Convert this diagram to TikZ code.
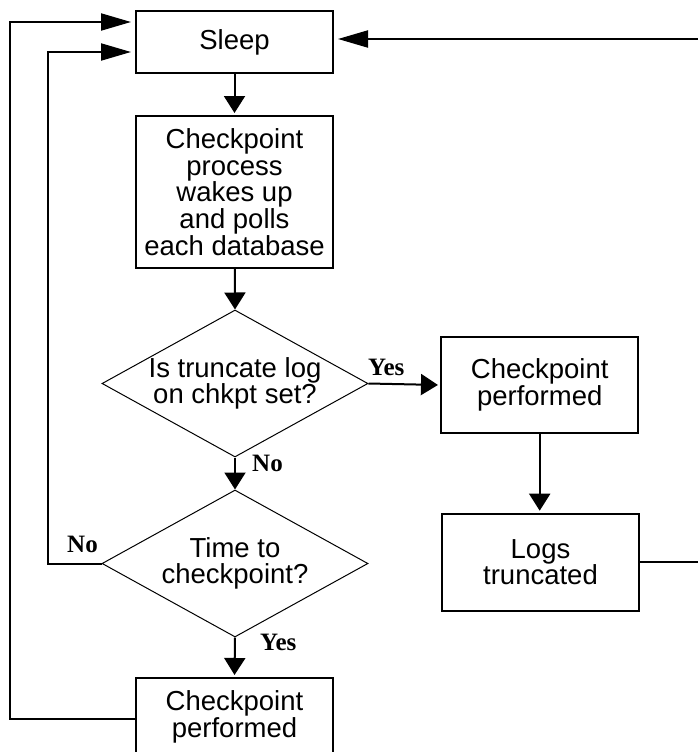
\documentclass[tikz,border=0pt]{standalone}
\usepackage{fontspec}
\setmainfont{Liberation Sans}
\newfontfamily\labfont{Liberation Serif}
\usetikzlibrary{arrows.meta,shapes.geometric}
\tikzset{
  box/.style={draw, line width=2pt, inner sep=0pt, align=center,
    font=\fontsize{27.5}{26.7}\selectfont},
  dia/.style={draw, line width=1pt, diamond, inner sep=0pt, minimum width=266pt, minimum height=147pt},
  diatext/.style={align=center, inner sep=0pt, font=\fontsize{27.5}{26.7}\selectfont},
  lab/.style={inner sep=0pt, anchor=base west, font=\labfont\bfseries\fontsize{25}{25}\selectfont},
  conn/.style={line width=2pt, -{Triangle[length=17pt,width=21pt]}, shorten >=2pt},
  back/.style={line width=2pt, -{Triangle[length=30pt,width=17pt]}, shorten >=4pt}
}
\begin{document}
\begin{tikzpicture}[x=1pt,y=-1pt]
\useasboundingbox (0,0) rectangle (698,752);
\node[box, minimum width=197pt, minimum height=62pt] (sleep) at (234.5,42) {Sleep};
\node[box, minimum width=197pt, minimum height=152pt] (proc) at (234.5,192)
  {Checkpoint\\process\\wakes up\\and polls\\each database};
\node[dia, label={[diatext]center:Is truncate log\\on chkpt set?}] (d1) at (235,383.5) {};
\node[dia, label={[diatext]center:Time to\\checkpoint?}] (d2) at (235,563.5) {};
\node[box, minimum width=197pt, minimum height=82pt,
  label={[diatext, yshift=2pt]center:Checkpoint\\performed}] (bot) at (234.5,719) {};
\node[box, minimum width=197.5pt, minimum height=96.6pt] (cp) at (539.7,385)
  {Checkpoint\\performed};
\node[box, minimum width=197pt, minimum height=97pt] (logs) at (540.5,562.2)
  {Logs\\truncated};

\coordinate (rc) at (700,562.2);
\coordinate (lc1) at (10,719);
\coordinate (lc2) at (48,563.5);

\draw[conn] (sleep) -- (proc);
\draw[conn, shorten >=0pt] (proc) -- (d1.north);
\draw[conn] (d1.east) -- (cp.west);
\draw[conn, shorten >=0pt] (d1.south) -- (d2.north);
\draw[conn] (d2.south) -- (bot.north);
\draw[conn] (cp.south) -- (cp.south |- logs.north);
\draw[back] (logs.east) -- (rc) |- ([yshift=3pt]sleep.east);
\draw[back] (d2.west) -- (lc2) |- ([yshift=-10pt]sleep.west);
\draw[back] (bot.west) -- (lc1) |- ([yshift=20pt]sleep.west);

\node[lab] (y1) at (368,375) {Yes};
\node[lab] (n1) at (252,471.7) {No};
\node[lab] (n2) at (67,552) {No};
\node[lab] (y2) at (260,650) {Yes};
\end{tikzpicture}
\end{document}
